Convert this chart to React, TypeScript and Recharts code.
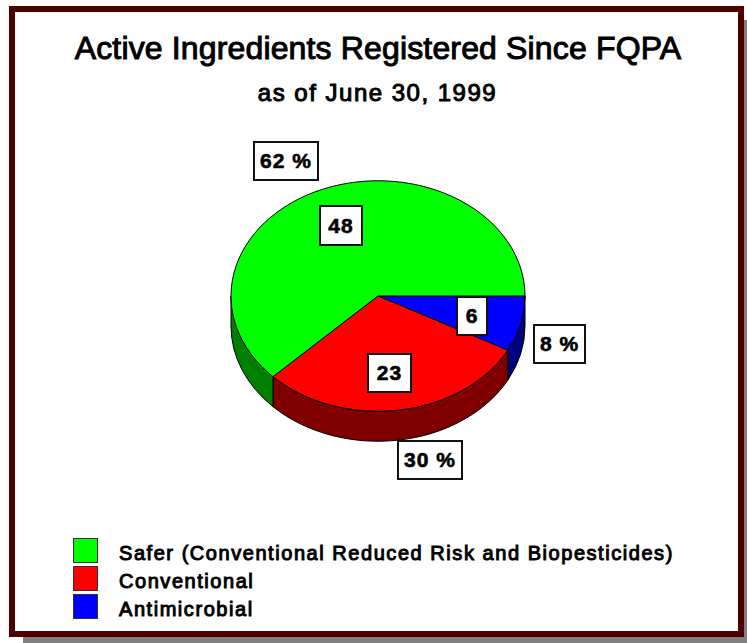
import { Legend, Pie, PieChart } from "recharts";

const categories = ["Antimicrobial", "Conventional", "Safer (Conventional Reduced Risk and Biopesticides)"];
const counts = [6, 23, 48];
const percents = [8, 30, 62];
const legendOrder = [2, 1, 0];

const topColors = ["#0000ff", "#ff0000", "#00ff00"];
const sideColors = ["#000080", "#800000", "#008000"];

const slices = categories.map((name, i) => ({ name, value: counts[i], fill: topColors[i], side: sideColors[i] }));

const TILT = 0.784;
const DEPTH = 30;
const FONT = "'Liberation Sans', Arial, sans-serif";

// box positions for the value and percent tags
const countBoxes = [
  { left: 456, top: 296, width: 32, height: 40 },
  { left: 367, top: 353, width: 45, height: 40 },
  { left: 319, top: 205, width: 44, height: 41 },
];
const percentBoxes = [
  { left: 533, top: 324, width: 53, height: 40 },
  { left: 397, top: 440, width: 66, height: 40 },
  { left: 253, top: 141, width: 66, height: 40 },
];

function point(cx: number, cy: number, r: number, deg: number) {
  const rad = (deg * Math.PI) / 180;
  return [cx + r * Math.cos(rad), cy + r * TILT * Math.sin(rad)];
}

function TopSlice(props: any) {
  const { cx, cy, outerRadius: r, startAngle, endAngle, fill } = props;
  const a = -startAngle;
  const b = -endAngle;
  const [x1, y1] = point(cx, cy, r, a);
  const [x2, y2] = point(cx, cy, r, b);
  const large = b - a > 180 ? 1 : 0;
  return (
    <path
      d={`M${cx},${cy}L${x1},${y1}A${r},${r * TILT} 0 ${large} 1 ${x2},${y2}Z`}
      fill={fill}
      stroke="#000"
      strokeWidth={1}
    />
  );
}

function SideSlice(props: any) {
  const { cx, cy, outerRadius: r, startAngle, endAngle, payload } = props;
  // only the front half of the rim is visible
  const a = Math.max(-startAngle, 0);
  const b = Math.min(-endAngle, 180);
  if (b <= a) return <g />;
  const [x1, y1] = point(cx, cy, r, a);
  const [x2, y2] = point(cx, cy, r, b);
  const ry = r * TILT;
  return (
    <path
      d={`M${x1},${y1}A${r},${ry} 0 0 1 ${x2},${y2}L${x2},${y2 + DEPTH}A${r},${ry} 0 0 0 ${x1},${y1 + DEPTH}Z`}
      fill={payload.side}
      stroke="#000"
      strokeWidth={1}
    />
  );
}

function LegendRows() {
  return (
    <div>
      {legendOrder.map((i) => (
        <div key={categories[i]} style={{ display: "flex", alignItems: "center", height: 28 }}>
          <div
            style={{
              width: 23,
              height: 23,
              background: topColors[i],
              border: "1px solid #333",
              marginRight: 21,
              flexShrink: 0,
            }}
          />
          <span
            style={{
              position: "relative",
              top: 3,
              fontFamily: FONT,
              fontSize: 20,
              color: "#000",
              WebkitTextStroke: "1px #000",
              letterSpacing: 1.55,
              whiteSpace: "nowrap",
            }}
          >
            {categories[i]}
          </span>
        </div>
      ))}
    </div>
  );
}

function Tag({ box, text }: { box: any; text: string }) {
  return (
    <div
      style={{
        position: "absolute",
        ...box,
        boxSizing: "border-box",
        background: "#fff",
        border: "2px solid #111",
        display: "flex",
        alignItems: "center",
        justifyContent: "center",
        fontFamily: FONT,
        fontSize: 21,
        fontWeight: 700,
        letterSpacing: 1,
        color: "#000",
        WebkitTextStroke: "0.6px #000",
        whiteSpace: "nowrap",
      }}
    >
      {text}
    </div>
  );
}

export default function App() {
  return (
    <div style={{ position: "absolute", left: 0, top: 0, width: 747, height: 643, background: "#fff", overflow: "hidden" }}>
      {/* drop shadow and maroon frame */}
      <div style={{ position: "absolute", left: 23, top: 20, width: 724, height: 623, background: "#808080" }} />
      <div
        style={{
          position: "absolute",
          left: 9,
          top: 6,
          width: 735,
          height: 631,
          boxSizing: "border-box",
          background: "#fff",
          border: "6px solid #4d0000",
        }}
      />
      <div style={{ position: "absolute", left: 0, top: 0 }}>
        <PieChart width={747} height={643} margin={{ top: 0, right: 0, bottom: 0, left: 0 }}>
          <Pie
            data={slices}
            dataKey="value"
            nameKey="name"
            cx={378}
            cy={296}
            outerRadius={147}
            startAngle={0}
            endAngle={-360}
            stroke="none"
            legendType="none"
            isAnimationActive={false}
            shape={SideSlice}
          />
          <Pie
            data={slices}
            dataKey="value"
            nameKey="name"
            cx={378}
            cy={296}
            outerRadius={147}
            startAngle={0}
            endAngle={-360}
            stroke="none"
            isAnimationActive={false}
            shape={TopSlice}
          />
          <Legend
            content={LegendRows}
            wrapperStyle={{ position: "absolute", left: 73, top: 536, width: 640, bottom: "auto" }}
          />
        </PieChart>
      </div>
      <div
        style={{
          position: "absolute",
          left: 0,
          width: 756,
          top: 28,
          textAlign: "center",
          fontFamily: FONT,
          fontSize: 32,
          lineHeight: "40px",
          letterSpacing: 0.15,
          color: "#000",
          WebkitTextStroke: "1px #000",
          whiteSpace: "nowrap",
        }}
      >
        Active Ingredients Registered Since FQPA
      </div>
      <div
        style={{
          position: "absolute",
          left: 0,
          width: 755,
          top: 78,
          textAlign: "center",
          fontFamily: FONT,
          fontSize: 24,
          lineHeight: "30px",
          letterSpacing: 1.5,
          color: "#000",
          WebkitTextStroke: "1px #000",
          whiteSpace: "nowrap",
        }}
      >
        as of June 30, 1999
      </div>
      {categories.map((name, i) => (
        <Tag key={name + "count"} box={countBoxes[i]} text={String(counts[i])} />
      ))}
      {categories.map((name, i) => (
        <Tag key={name + "pct"} box={percentBoxes[i]} text={`${percents[i]} %`} />
      ))}
    </div>
  );
}
